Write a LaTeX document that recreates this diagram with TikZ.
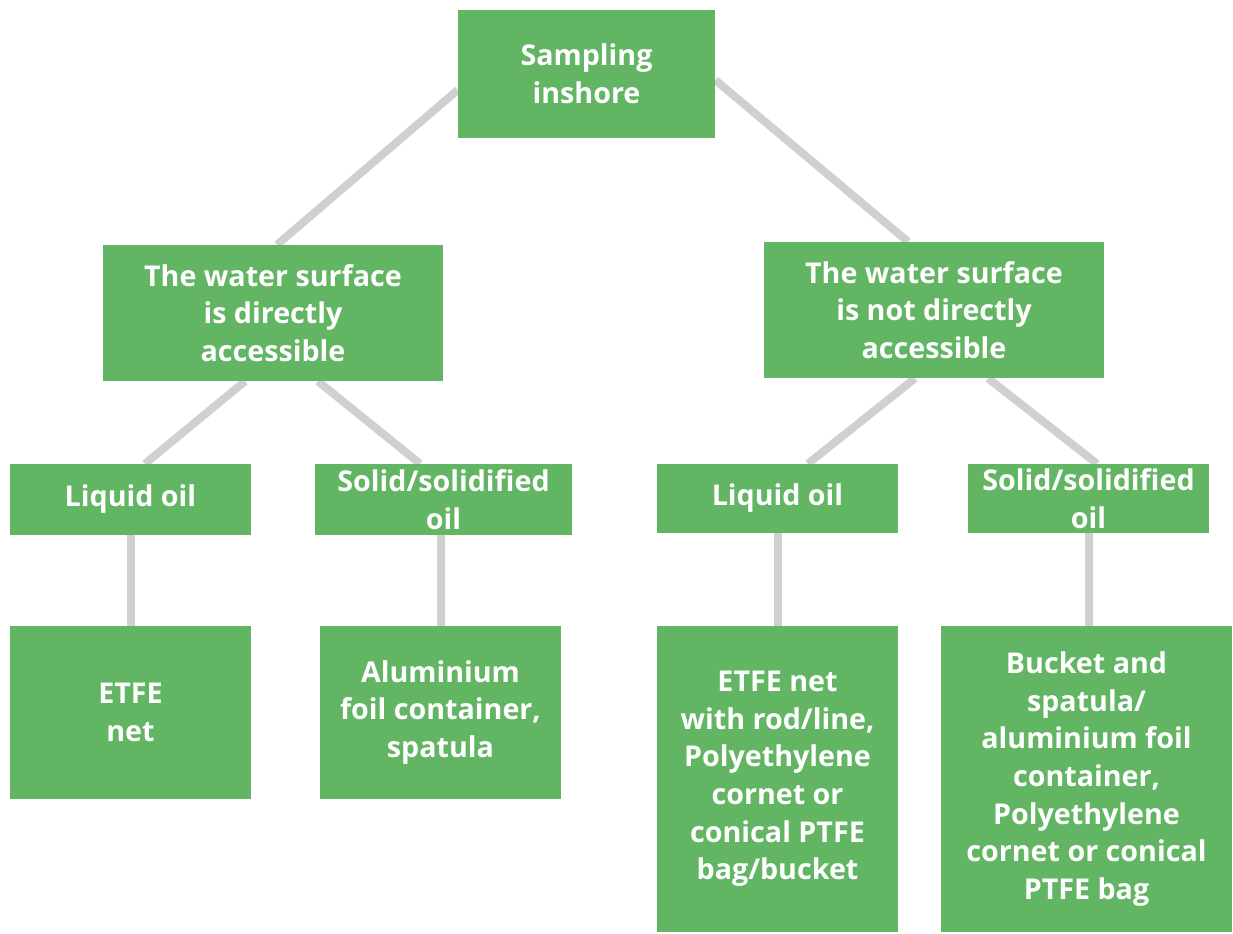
\documentclass[tikz,border=0pt]{standalone}
\usepackage{fontspec}
\setmainfont{Open Sans}
\usetikzlibrary{calc,backgrounds}
\definecolor{boxgreen}{HTML}{61B563}
\definecolor{linkgray}{HTML}{D0D0D0}
\tikzset{
    box/.style = {
        draw = none,
        fill = boxgreen,
        text = white,
        font = \fontsize{21.5}{28.2}\selectfont\bfseries,
        align = center,
        inner sep = 0pt,
        },
    link/.style = {
        draw = linkgray,
        line width = 6pt,
        },
}
\begin{document}
\begin{tikzpicture}[x=0.75pt, y=-0.75pt]
            \useasboundingbox (0,0) rectangle (1233,934);
            \node[box, minimum width=257*0.75pt, minimum height=128*0.75pt] (root) at (586.5,74) {Sampling\\inshore};
            \node[box, minimum width=340*0.75pt, minimum height=136*0.75pt] (wet) at (273,313) {The water surface\\is directly\\accessible};
            \node[box, minimum width=340*0.75pt, minimum height=136*0.75pt] (dry) at (934,310) {The water surface\\is not directly\\accessible};

            \node[box, minimum width=241*0.75pt, minimum height=71*0.75pt] (wetliq) at (130.5,499.5) {Liquid oil};
            \node[box, minimum width=257*0.75pt, minimum height=71*0.75pt] (wetsol) at (443.5,499.5) {Solid/solidified\\oil};
            \node[box, minimum width=241*0.75pt, minimum height=69*0.75pt] (dryliq) at (777.5,498.5) {Liquid oil};
            \node[box, minimum width=241*0.75pt, minimum height=69*0.75pt] (drysol) at (1088.5,498.5) {Solid/solidified\\oil};

            \node[box, minimum width=241*0.75pt, minimum height=173*0.75pt] (wetliqtool) at (130.5,712.5) {ETFE\\net};
            \node[box, minimum width=241*0.75pt, minimum height=173*0.75pt] (wetsoltool) at (440.5,712.5) {Aluminium\\foil container,\\spatula};
            \node[box, minimum width=241*0.75pt, minimum height=306*0.75pt] (dryliqtool) at (777.5,779) {ETFE net\\with rod/line,\\Polyethylene\\cornet or\\conical PTFE\\bag/bucket};
            \node[box, minimum width=291*0.75pt, minimum height=306*0.75pt] (drysoltool) at (1086.5,779) {Bucket and\\spatula/\\aluminium foil\\container,\\Polyethylene\\cornet or conical\\PTFE bag};

            \begin{scope}[on background layer]
            \draw[link] ($(root.west)+(0,16)$) -- ($(wet.north)+(4,0)$);
            \draw[link] ($(root.east)+(0,6)$) -- ($(dry.north)+(-26,0)$);
            \draw[link] ($(wet.south)+(-28,0)$) -- ($(wetliq.north)+(14.5,0)$);
            \draw[link] ($(wet.south)+(45,0)$) -- ($(wetsol.north)+(-23.5,0)$);
            \draw[link] ($(dry.south)+(-19,0)$) -- ($(dryliq.north)+(30.5,0)$);
            \draw[link] ($(dry.south)+(54,0)$) -- ($(drysol.north)+(8.5,0)$);
            \draw[link] (wetliq) -- (wetliqtool);
            \draw[link] (wetsoltool.north |- wetsol.south) -- (wetsoltool.north);
            \draw[link] (dryliq) -- (dryliqtool);
            \draw[link] (drysol.south) -- (drysol.south |- drysoltool.north);
            \end{scope}
        \end{tikzpicture}
\end{document}
